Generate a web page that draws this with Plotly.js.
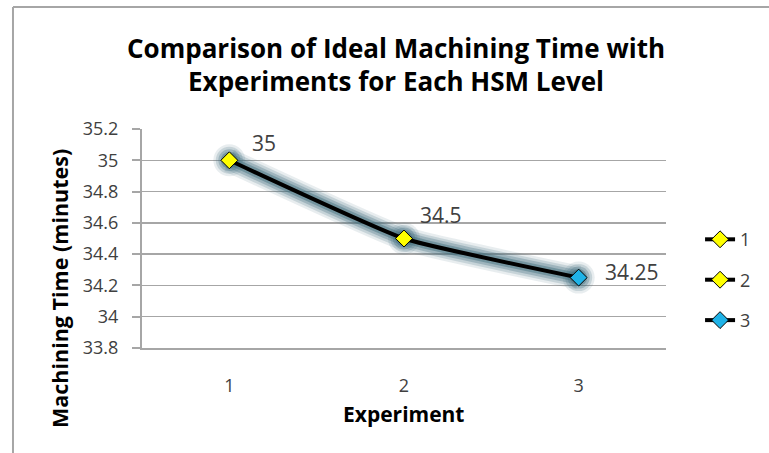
<!DOCTYPE html>
<html>
<head>
<meta charset="utf-8">
<script src="https://cdn.plot.ly/plotly-3.0.1.min.js"></script>
<style>html,body{margin:0;padding:0;background:#fff;}#chart{width:769px;height:453px;}</style>
</head>
<body>
<div id="chart"></div>
<script>
// Data
const experiments = [1, 2, 3];
const machiningTime = [35, 34.5, 34.25];
const legendNames = ["1", "2", "3"];
const yTickVals = [33.8, 34, 34.2, 34.4, 34.6, 34.8, 35, 35.2];
const yTickText = ["33.8", "34", "34.2", "34.4", "34.6", "34.8", "35", "35.2"];
const xTickVals = [1, 2, 3];
const xTickText = ["1", "2", "3"];
const xTitle = "Experiment";
const yTitle = "Machining Time (minutes)";

// Styles
const pointColors = ["#FFFF00", "#FFFF00", "#1FB3E8"];
const labelShiftX = [21, 14, 24];
const labelShiftY = [17, 24, 6];
const FONT = "'Open Sans', Lato, sans-serif";

const traces = [];
// glow layers
[[24, 0.12], [19, 0.2], [14, 0.3], [9, 0.45]].forEach(([w, a]) => {
  traces.push({
    x: experiments, y: machiningTime, mode: "lines+markers",
    line: {color: `rgba(65,110,125,${a})`, width: w, shape: "spline", smoothing: 0.4},
    marker: {symbol: "circle", size: w + 8, color: `rgba(65,110,125,${a})`},
    showlegend: false, hoverinfo: "skip"
  });
});
// main line
traces.push({
  x: experiments, y: machiningTime, mode: "lines",
  line: {color: "#000000", width: 4, shape: "spline", smoothing: 0.4},
  showlegend: false, hoverinfo: "skip"
});
// points (with legend)
experiments.forEach((e, i) => {
  traces.push({
    x: [e], y: [machiningTime[i]], mode: "lines+markers", name: legendNames[i],
    legendgroup: "g" + i,
    line: {color: "#000000", width: 4},
    marker: {symbol: "diamond", size: 13, color: pointColors[i], line: {color: "#000000", width: 1}}
  });
});

const annotations = experiments.map((e, i) => ({
  x: e, y: machiningTime[i], xref: "x", yref: "y",
  text: String(machiningTime[i]), showarrow: false,
  xanchor: "left", yanchor: "middle",
  xshift: labelShiftX[i], yshift: labelShiftY[i],
  font: {family: FONT, size: 21, color: "#404040"}
}));
annotations.push({
  xref: "paper", yref: "paper", x: 0.5, y: -0.302, xanchor: "center", yanchor: "middle",
  text: "<b>" + xTitle + "</b>", showarrow: false,
  font: {family: FONT, size: 21, color: "#000000"}
});
annotations.push({
  xref: "paper", yref: "paper", x: -0.1565, y: 0.274, xanchor: "center", yanchor: "middle",
  text: "<b>" + yTitle + "</b>", showarrow: false, textangle: -90,
  font: {family: FONT, size: 21.5, color: "#000000"}
});

const border = "#A6A6A6";
const layout = {
  width: 769, height: 453,
  margin: {l: 142, r: 103, t: 129, b: 105},
  paper_bgcolor: "#ffffff", plot_bgcolor: "#ffffff",
  font: {family: FONT, color: "#404040"},
  title: {
    text: "<b>Comparison of Ideal Machining Time with<br>Experiments for Each HSM Level</b>",
    font: {family: FONT, size: 26, color: "#000000"},
    x: 0.515, xanchor: "center", y: 0.873, yanchor: "middle"
  },
  xaxis: {
    range: [0.5, 3.5], tickvals: xTickVals, ticktext: xTickText,
    showgrid: false, zeroline: false, showline: true, linecolor: border, linewidth: 2,
    ticks: "", ticklabelstandoff: 20,
    tickfont: {family: FONT, size: 18, color: "#404040"}
  },
  yaxis: {
    range: [33.8, 35.2], tickvals: yTickVals, ticktext: yTickText,
    showgrid: true, gridcolor: border, gridwidth: 1.5, zeroline: false,
    showline: true, linecolor: border, linewidth: 2,
    ticks: "outside", ticklen: 8, tickcolor: border, tickwidth: 2,
    ticklabelstandoff: 10,
    tickfont: {family: FONT, size: 18, color: "#404040"}
  },
  legend: {
    x: 1.065, xanchor: "left", y: 0.31, yanchor: "middle",
    traceorder: "grouped", tracegroupgap: 14,
    font: {family: FONT, size: 18, color: "#404040"},
    bgcolor: "rgba(0,0,0,0)"
  },
  annotations: annotations,
  shapes: [
    {type: "line", xref: "paper", yref: "paper", x0: -0.2462, x1: 1.2, y0: 1.557, y1: 1.557, line: {color: border, width: 2}},
    {type: "line", xref: "paper", yref: "paper", x0: -0.2462, x1: -0.2462, y0: 1.557, y1: -0.48, line: {color: border, width: 2}}
  ],
  showlegend: true
};

Plotly.newPlot("chart", traces, layout, {displayModeBar: false, staticPlot: true});
</script>
</body>
</html>
